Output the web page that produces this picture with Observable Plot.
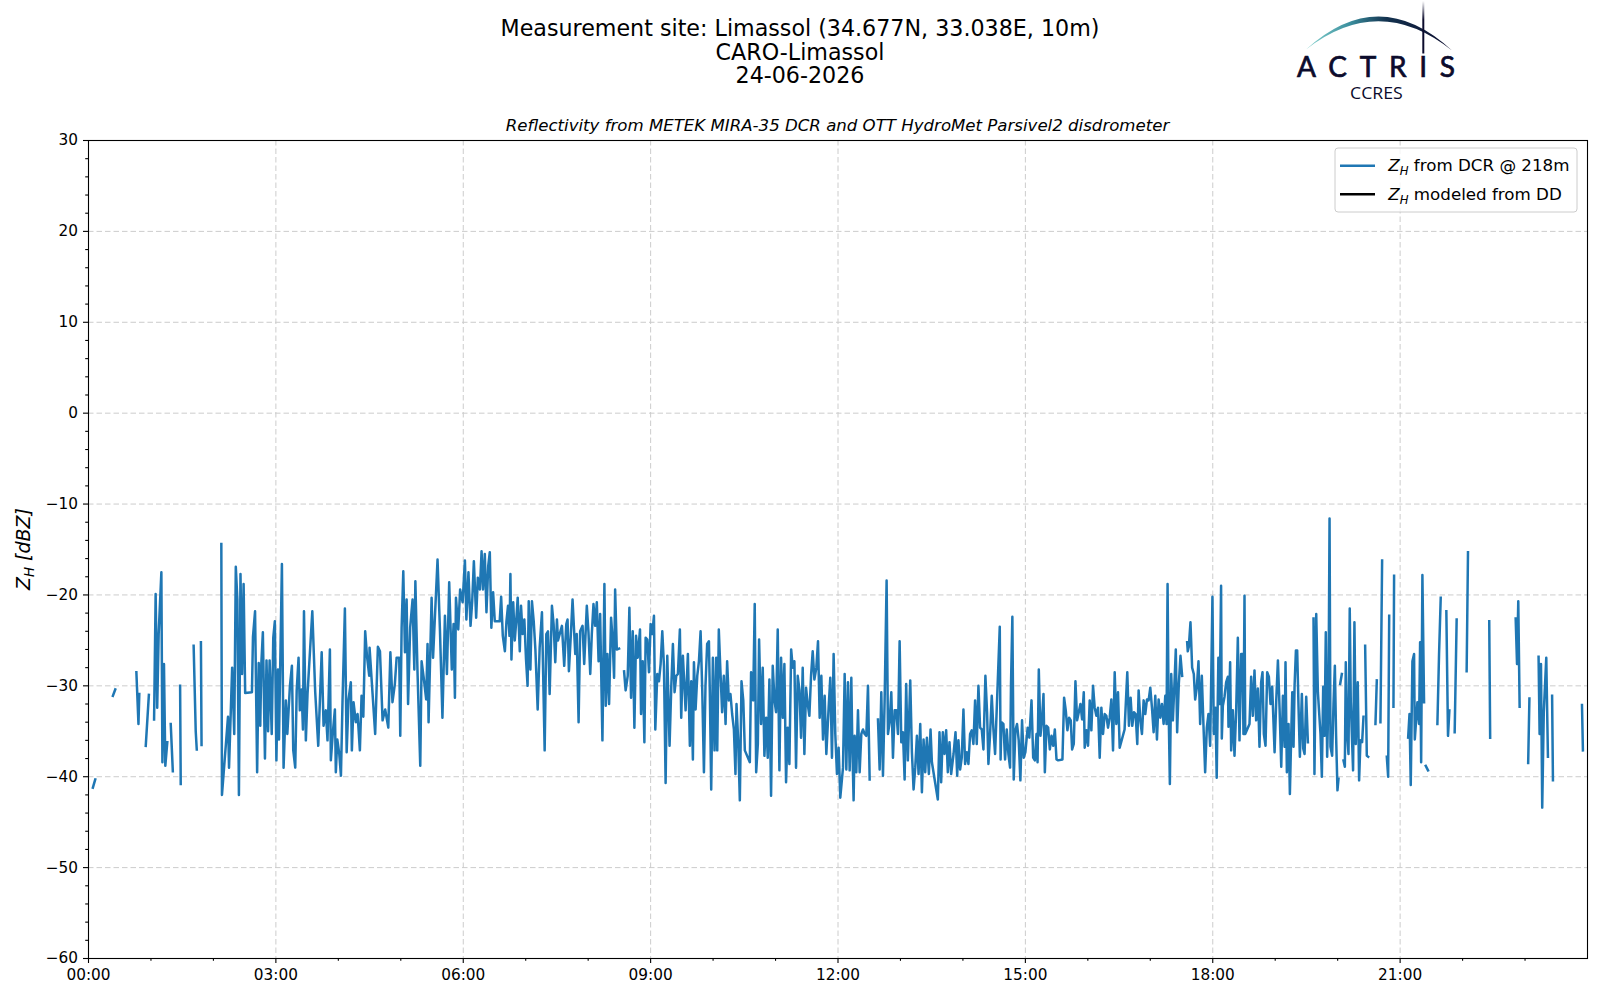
<!DOCTYPE html>
<html><head><meta charset="utf-8">
<script src="https://cdn.jsdelivr.net/npm/d3@7"></script>
<script src="https://cdn.jsdelivr.net/npm/@observablehq/plot@0.6"></script>
<style>
html,body{margin:0;padding:0;background:#fff;}
#wrap{position:relative;width:1600px;height:1000px;overflow:hidden;font-family:"DejaVu Sans",sans-serif;}
#wrap > svg{position:absolute;left:0;top:0;}
#overlay{pointer-events:none;}
</style></head><body><div id="wrap"></div>
<script>
// ---- data: [minutes after 00:00 UTC, Z_H dBZ]; null = gap in the record ----
const zhDCR = [
[4.2,-41.2],[6.5,-40.3],[7,null],
[23.4,-31.1],[25.7,-30.4],[26,null],
[46,-28.5],[48,-34.2],[48.8,-30.9],[50,null],
[55,-36.6],[58,-31],[60,null],
[63,-33.7],[64.5,-19.9],[66,-32.4],[67.4,-24.3],[70,-17.5],[71,-38.4],[72.5,-27.6],[73.8,-38.8],[75.7,-36.2],[77,null],
[79,-34.2],[81,-39.4],[83,null],
[88,-30],[88.6,-40.8],[90,null],
[101,-25.6],[103,-35],[104,-37],[106,null],
[108,-25.2],[108.6,-36.5],[110,null],
[127.6,-14.4],[128.2,-42],[132,-36.4],[134,-33.4],[135,-39],[138,-28],[140,-35.3],[141.5,-16.9],[143,-20.5],[144.5,-42],[146,-17.7],[147.5,-28.7],[149,-18.8],[150.5,-30.8],[157,-30.7],[158,-24.6],[160,-21.8],[162,-39.5],[163.5,-27.5],[165,-34.4],[166,-27.6],[167.5,-24.1],[169.5,-38],[171,-27.2],[172.5,-35],[174,-27.2],[176,-35.3],[177.5,-24.7],[179,-22.9],[180.5,-38.2],[182,-28.2],[183,-35.9],[185.8,-16.6],[187.4,-39],[189.6,-31.6],
[191,-35.3],[193.5,-30],[195.4,-27.8],[196.7,-37.1],[198.6,-39],[200,-30.5],[201.8,-26.9],[203,-32.7],[204.7,-30.4],[206,-34.8],[207,-21.8],[208.8,-36],[210.4,-30.9],[215,-21.8],[217.8,-30.7],[220.7,-36.6],[224,-26.3],[225.8,-34.4],[228,-32.7],[229.6,-36],[231.9,-26],[232.8,-38.2],[235,-34.8],[236.7,-32.6],[237.6,-39.5],[239,-35.9],[240.9,-37.5],[242.5,-39.9],[244,-31.8],[246.3,-21.5],[248,-37.3],[249.8,-31.5],[252,-29.6],[253,-37.1],[254.6,-31.8],[256.8,-34],[258.5,-33.1],[260.7,-37.1],[262.3,-31.1],[264,-33.4],[265.8,-24],[267.5,-26.7],[269.7,-28.9],[270,-25.8],[275.4,-35.3],[278,-25.7],[280,-26.2],[282.5,-33.8],[285,-32.6],[288,-34.6],[290,-26.3],[292,-31.8],[294.3,-29.8],[296,-26.9],[298.5,-26.9],[299.5,-35.5],[300.8,-23.6],[302.4,-17.4],[304,-26.3],[305.6,-20.5],[307,-32],[309,-23.6],[311.3,-20.5],[313,-28.2],[314,-18.5],[316,-28.2],[318.7,-38.8],[320,-27.3],[322,-29.1],[324.4,-31.5],[325.7,-25.4],[326.7,-34],[329.6,-20.3],[331,-26.9],[335.3,-16.1],[337.6,-23.8],[340,-33.5],[342.4,-22.3],[344.3,-28.7],[346.5,-18.6],[349,-28.2],[350.7,-23.2],[352,-31.3],[353,-20.3],[355.2,-23.8],[357,-19.4],[359.4,-20.8],[361.6,-16.2],
[363,-22.7],[365,-17.5],[367,-23.4],[368.6,-20.7],[370.2,-16.3],[372.4,-22.5],[374,-18.1],[376,-19.4],[377.6,-15.2],[379,-19.4],[380.7,-15.5],[382.3,-21.9],[384,-16.8],[385.5,-15.3],[387,-23.6],[388.7,-19.7],[390.3,-22.9],[395,-22.9],[396.4,-20.2],[398,-24.5],[400,-26.2],[401.5,-22.9],[403,-21.2],[404.4,-24.5],[405.3,-17.7],[406.3,-27.1],[408,-20.8],[409.5,-25],[411,-22.7],[412.3,-20.3],[414.3,-26.2],[415.5,-21.2],[417,-24.3],[418.7,-22.7],[420.3,-27.1],[421.8,-30],[422.9,-20.7],[424.5,-28.2],[426,-20.7],[427.7,-22.9],[429.3,-26],[431.5,-32.6],[433.4,-25.8],[435.6,-21.9],[438.2,-37.1],[439.8,-24.3],[441.4,-24],[443,-30.9],[445.2,-21.2],[446.8,-23.2],[448.4,-27.4],[450,-22.7],[451,-25],[454.8,-23.4],[457,-27.8],[459,-23.2],[460.2,-22.7],[461.5,-28.4],[463.4,-24.3],[465,-20.5],[467.6,-26.5],[469,-24.3],[470.8,-34],[472.3,-24],[474.6,-23.4],[476.2,-27.6],[478.7,-21.2],[480.3,-24.1],[482,-28.7],[483.5,-24.3],[485.1,-21],[486.7,-23.4],[488.3,-20.8],[490,-27.3],[491.5,-22.1],[493.7,-36],[495.6,-18.8],[496.9,-32.2],[498.5,-26.5],[500.1,-32],[502,-22.5],[503.5,-24.9],[504.9,-29.1],[505.9,-19.4],[507.5,-26],[509.7,-25.9],[512,null],
[514.5,-28.4],[516,-30.5],[518,-28.9],[519.6,-21.4],[521.2,-31.3],[522.8,-24],[524.4,-34.6],[526,-24.5],[527.6,-26.9],[529.8,-23.8],[530.8,-33.1],[532.4,-27.3],[534,-36.2],[535.2,-24.7],[536.8,-24.9],[538.4,-28.5],
[540,-23.2],[541.6,-24.3],[543.2,-22.3],[544.5,-34.8],[546.4,-28.7],[548,-29.5],[549.6,-27.6],[551.2,-24],[552.8,-27.8],[554.4,-40.7],[556,-26.7],[558.2,-36.6],[559.8,-30.2],[561.4,-25.4],[563,-30.7],[564.6,-28.9],[566.2,-28.7],[568.1,-23.8],[569.4,-33.5],[571,-26.7],[573.6,-32.7],[575.8,-26.5],[577.7,-36.6],[579,-29.5],[580.6,-38.1],[581.6,-27.4],[583.2,-32.6],[584.8,-28.9],[586.4,-27.3],[588,-24],[589.6,-30.5],[591.2,-39.5],[592.7,-30],[594.3,-25.4],[596,-25.1],[596.9,-30.9],[598.2,-41.4],[599.8,-26.9],[601.4,-37.1],[603,-26.9],[604,-37.1],[605.5,-23.8],[607.1,-28.5],[608.7,-32.9],[610.3,-28.9],[612,-34.2],[613.5,-27.3],[615.1,-31.6],[616.7,-30.9],[618.3,-33.1],[620,-34.8],[621.5,-39.7],[622.5,-32],[624.1,-36],[625.7,-42.6],[627.3,-29.5],[629,-31.6],[630.5,-37.1],[635.3,-38.4],[636.5,-28.5],[638.5,-31.6],[640,-21],[641.4,-39.5],[643,-36.4],[644.2,-24.9],[646.1,-34.2],[647.7,-28],[649.3,-37.7],[651,-33.5],[652.5,-37.9],[654.1,-29.3],[655.7,-42.1],[657.3,-27.8],[659,-31.6],[660.5,-32.9],[662.1,-23.8],[663.7,-39.3],[665.3,-26.9],[667,-33.5],[668.5,-27.6],[670.1,-40.6],[671.7,-34.6],[673.3,-38.6],[675,-26],[676.5,-28],[678.1,-27.3],[679.7,-39],[681.3,-28.9],[683,-30.5],[684.5,-35.7],[686.1,-28],[687.7,-37.5],[689.3,-30.2],[690.9,-32],[692.5,-33.3],[694.1,-28.9],[695.7,-26.2],[697.3,-29.3],[699.2,-28],[700.8,-25.1],[702.4,-33.5],[704,-28.9],[705.6,-35.9],[707.2,-31.1],[708.8,-37.5],[711,-32.4],[712.6,-29.1],[714.2,-37.9],[715.8,-26.5],[717.4,-35.3],[719,-39.7],[720.6,-36.8],[722.2,-42.3],
[724.8,-39],[726.4,-28.7],[728,-39.2],[729.6,-29.6],[731.2,-39.3],[732.8,-29.1],[733.8,-36.8],[735,-42.6],[736,-35.5],[737.6,-39.5],[739.2,-32.7],[740.8,-39.5],[742.4,-35.3],[744,-34.8],[745.6,-35.3],[747.2,-35.5],[748.8,-30],[750.4,-40.3],[754,null],
[758.4,-33.7],[760,-39.2],[761.6,-30.7],[763.2,-39.9],[764.8,-31.6],[766.7,-18.4],[768,-35.3],[769.6,-34],[771.2,-30.7],[772.8,-37.9],[774.4,-32.7],[776,-32.7],[777.6,-35.3],[779.2,-25.1],[780.8,-36.2],[782.4,-35.1],[784,-40.3],[785.5,-29.8],[787.1,-38.2],[789.4,-29.4],[791,-37.3],[792.6,-41.4],[794.2,-39],[795.8,-35.5],[797.4,-39.7],[799,-34.2],[800.6,-41.7],[802.2,-35.9],[803.8,-39.5],[805.4,-35.7],[807.3,-39.7],[808.9,-34.8],[810.2,-38.4],[815.9,-42.5],[817.5,-35.1],[819.1,-40.6],[820.7,-35.1],[822.3,-37.5],[823.9,-34.9],[825.5,-39.5],[827.1,-36.2],[828.7,-39.7],[831,-37.5],[832.9,-35.1],[834.5,-39.9],[835.7,-36],[837.3,-39.2],[838.9,-37.9],[840.5,-32.6],[842.1,-38.6],[843.7,-37.3],[845.3,-38.6],[846.9,-35.3],[848.5,-34.9],[850.1,-36.4],[851.7,-31.6],[853.3,-36.4],[854.9,-30],[856.5,-34.6],[858.1,-34.8],[859.7,-37],[861.6,-28.9],[863.2,-32.9],[864.5,-38.6],[866.1,-35.3],[867.7,-31.1],[869.3,-34.8],[870.9,-37.5],[875.4,-23.5],[876.2,-38.1],[877,-34],[878.9,-34.2],[880.5,-38.1],[882.1,-34.8],[883.7,-37.5],[885.3,-39],[886.2,-29.8],[887.5,-22.4],[888.8,-40.3],[890.4,-34.9],[892,-34.2],[893.6,-36],[895.2,-40.4],[896.8,-33.8],[898.4,-37.9],[900,-37.3],[902.2,-34.6],[903.8,-35.7],
[905.9,-31.6],[907.5,-37.9],[909.1,-38.2],[910.7,-35.3],[911.7,-38.4],[912.9,-28.2],[914.5,-35.5],[916.1,-33.5],[917.4,-30.9],[918.7,-39.5],[920.3,-34.4],[921.9,-34.6],[923.5,-37],[925.1,-35.5],[926.7,-36.6],[928.3,-34.8],[929.9,-38.1],[931.5,-38.2],[935.6,-38.1],[937.2,-31.3],[938.8,-32.7],[940.4,-34.9],[942,-33.5],[943.6,-33.8],[944.9,-37],[946.5,-36.4],[948.1,-29.5],[949.7,-33.8],[951.3,-32.9],[952.9,-32],[954.5,-33.7],[956.1,-30.7],[957,-36.8],[958.6,-34.9],[960.2,-36.6],[961.8,-31.6],[963.4,-34.9],[965,-30],[966.6,-32.4],[968.2,-33.3],[969.8,-32.4],[971.4,-37.9],[973,-32.4],[974.6,-35.3],[976.2,-33.1],[977.8,-33.3],[979.4,-34.6],[981,-33.5],[982.6,-31.5],[984.2,-37.1],[985.8,-28.5],[987.4,-34.2],[989,-30.7],[990.6,-36.8],[995.3,-34.8],[997.9,-28.5],[999.5,-34.4],[1001.1,-31.3],[1002.7,-34.4],[1004.3,-32.9],[1005.9,-33.1],[1007.5,-36.4],[1008.8,-30.5],[1010.4,-33.8],[1012,-35.3],[1013.6,-31.6],[1015.2,-33.1],[1016.8,-31.5],[1018.4,-31.6],[1020,-30.2],[1021.6,-32.4],[1023.2,-35.1],[1024.8,-31.1],[1026.4,-35.9],[1028,-31.5],[1029.6,-33.5],[1031.2,-32],[1032.8,-34.2],[1034.4,-31.1],[1035.6,-34.2],[1036.6,-18.8],[1037.6,-32.4],[1038.8,-40.8],[1040.1,-28.7],[1041.7,-33.8],[1043.3,-29.5],[1044.5,-26],[1045.8,-35.1],[1047.4,-29.8],[1049,-26.7],[1050.6,-28.9],[1053,null],
[1055.4,-25.2],[1056,-26.2],[1057,-25.7],[1058.6,-23],[1060.2,-28],[1061.8,-28.7],[1063.1,-31.5],[1064.7,-30.2],[1066.3,-27.3],[1067.9,-34.2],[1069.5,-28.9],[1071.1,-34.4],[1072.7,-39.5],[1074.3,-34.6],[1075.9,-33.1],[1077.5,-36.6],[1078.4,-30.2],[1079.7,-20.2],[1081,-35.3],[1082.6,-32.4],[1083.8,-40.1],[1085.4,-26.9],[1086.7,-32],
[1088,-19],[1088.7,-35.8],[1089.7,-32.2],[1091.3,-31.2],[1092.9,-29.6],[1094.5,-29],[1095.1,-34.5],[1096.7,-27.4],[1097.7,-37.1],[1099.3,-32.7],[1100.9,-37.7],[1102.5,-32.7],[1104.1,-24.7],[1105.7,-36],[1107.3,-26.5],[1108.6,-26.5],[1109.5,-35.3],[1110.5,-20.1],[1111.2,-35.3],[1115.3,-34.2],[1116.9,-29],[1118.5,-33.3],[1120.1,-28.3],[1121.7,-33.8],[1123.3,-30.3],[1124.9,-36.7],[1126.5,-29.6],[1127.8,-28.5],[1129.1,-35.3],[1130.7,-36.6],[1132.3,-28.5],[1133.9,-29],[1135.5,-32],[1137.1,-30.1],[1139.4,-37.3],[1141,-31.6],[1142.6,-27.2],[1144.2,-32.5],[1145.8,-38.9],[1147.4,-31.1],[1149,-36.7],[1149.9,-27.4],[1151.2,-39.5],[1152.8,-34.2],[1154.1,-41.9],[1155.4,-35.3],[1156.4,-30.7],[1157.6,-36.7],[1158.6,-30],[1159.9,-26.1],[1161.1,-26.1],[1162.4,-32.3],[1163.7,-37.8],[1165.6,-30.9],[1166.9,-36.9],[1168.2,-37.5],[1169.8,-31.2],[1171.4,-36.2],[1174,null],
[1176.8,-22.6],[1177.7,-39.7],[1179.4,-22.1],[1181,-30.7],[1183.5,-35.3],[1184.8,-40],[1186.1,-30.1],[1187.4,-35.5],[1188.6,-24.1],[1189.9,-37.8],[1191.2,-30.9],[1192.2,-11.6],[1193.1,-36.7],[1194.7,-37.7],[1196,-32],[1197.3,-27.8],[1198.5,-35.5],[1199.8,-41.5],[1200.8,-40.2],[1201.6,null],
[1202.4,-29.8],[1204,-28.7],[1204.8,null],
[1205.6,-38.2],[1206.9,-38.9],[1207.8,-27.4],[1209.1,-35.3],[1210.4,-37.5],[1211.6,-21.5],[1212.6,-31.8],[1214.8,-39.3],[1216.1,-23],[1217.4,-36.4],[1219.3,-29.6],[1220.6,-40.4],[1221.9,-36],[1223.5,-36.2],[1224.8,-33.4],[1225.6,null],
[1226.4,-25.6],[1228,-37.7],[1229.3,-37.8],[1232,null],
[1236.3,-34.2],[1237.6,-29.4],[1239,null],
[1241.1,-34],[1242.7,-16.2],[1244,null],
[1247.2,-37.8],[1248.5,-40],[1249.5,-22.3],[1251,null],
[1253.6,-32.3],[1254.2,-17.9],[1260,null],
[1267.7,-35.7],[1269,-33.1],[1270.2,-40.9],[1271.8,-27.3],[1273.4,-26.5],[1274.1,-35.9],[1276.6,-31.8],[1278.2,-34.2],[1279.2,-25.2],[1280.2,-38.4],[1281.4,-17.8],[1283,-31.8],[1283.8,null],
[1284.6,-38.8],[1286.8,-39.3],[1290,null],
[1295.8,-34.2],[1297.4,-26.5],[1299,-20.3],[1302,null],
[1304.4,-21.8],[1306,-35.5],[1307.3,-32.7],[1310,null],
[1312.4,-35.1],[1314.3,-22.7],[1318,null],
[1323.9,-28.4],[1325.2,-15.3],[1330,null],
[1345.6,-22.9],[1346.5,-35.7],[1350,null],
[1371,-22.6],[1372.3,-27.6],[1373.5,-20.7],[1374.8,-32.3],[1378,null],
[1383,-38.5],[1384.2,-31.4],[1388,null],
[1393,-26.8],[1394,-35.3],[1395.3,-27.6],[1396.5,-43.4],[1398,-32.9],[1400.4,-26.9],[1401,-31.1],[1402,-37.8],[1404,null],
[1406,-31.1],[1406.8,-40.4],[1410,null],
[1434.7,-32.1],[1435.6,-37.1]
];
const zhDD = []; // modeled from disdrometer: no values on this day

const majorHours = [0, 3, 6, 9, 12, 15, 18, 21];
const xTickLabels = ["00:00", "03:00", "06:00", "09:00", "12:00", "15:00", "18:00", "21:00"];
const minorHours = [1, 2, 4, 5, 7, 8, 10, 11, 13, 14, 16, 17, 19, 20, 22, 23];
const yMajorTicks = [-60, -50, -40, -30, -20, -10, 0, 10, 20, 30];
const yTickLabels = ["\u221260", "\u221250", "\u221240", "\u221230", "\u221220", "\u221210", "0", "10", "20", "30"];
const yMinorTicks = [-58,-56,-54,-52,-48,-46,-44,-42,-38,-36,-34,-32,-28,-26,-24,-22,-18,-16,-14,-12,-8,-6,-4,-2,2,4,6,8,12,14,16,18,22,24,26,28];

const day0 = Date.UTC(2026, 5, 24);
const toDate = m => new Date(day0 + m * 60000);
const rows = zhDCR.map(([m, v]) => ({time: toDate(m), zh: v}));
const majorTimes = majorHours.map(h => toDate(h * 60));
const minorTimes = minorHours.map(h => toDate(h * 60));

const FONT = '"DejaVu Sans", sans-serif';
const gridStyle = {stroke: "#cccccc", strokeOpacity: 1, strokeWidth: 1, strokeDasharray: "5.5,3"};

const chart = Plot.plot({
  width: 1600, height: 1000,
  marginLeft: 88, marginRight: 13, marginTop: 140, marginBottom: 42,
  style: {fontFamily: FONT, color: "#000", background: "transparent", overflow: "visible"},
  x: {type: "utc", domain: [toDate(0), toDate(1440)], label: null},
  y: {domain: [-60, 30], label: null},
  marks: [
    Plot.gridX(majorTimes, gridStyle),
    Plot.gridY(yMajorTicks, gridStyle),
    Plot.line(rows, {x: "time", y: "zh", stroke: "#1f77b4", strokeWidth: 2.5, strokeLinejoin: "round", strokeLinecap: "square"}),
    Plot.line(zhDD, {x: "time", y: "zh", stroke: "#000", strokeWidth: 2.5}),
    Plot.frame({stroke: "#000", strokeWidth: 1.1}),
    Plot.axisX(majorTimes, {tickSize: 5, tickPadding: 6, strokeWidth: 1.1, fontSize: 15.3, fill: "#000",
      tickFormat: d => xTickLabels[majorTimes.findIndex(t => +t === +d)]}),
    Plot.axisX(minorTimes, {tickSize: 2.8, strokeWidth: 1.1, tickFormat: () => ""}),
    Plot.axisY(yMajorTicks, {tickSize: 5, tickPadding: 5.5, strokeWidth: 1.1, fontSize: 15.3, fill: "#000",
      tickFormat: d => yTickLabels[yMajorTicks.indexOf(d)]}),
    Plot.axisY(yMinorTicks, {tickSize: 2.8, strokeWidth: 1.1, tickFormat: () => ""})
  ]
});
const wrap = document.getElementById("wrap");
wrap.appendChild(chart);

// ---- overlay: titles, axis label, legend, logo ----
const ns = "http://www.w3.org/2000/svg";
const ov = document.createElementNS(ns, "svg");
ov.setAttribute("id", "overlay");
ov.setAttribute("width", 1600);
ov.setAttribute("height", 1000);
ov.innerHTML = `
<defs>
  <linearGradient id="arcGrad" x1="1306" y1="0" x2="1452" y2="0" gradientUnits="userSpaceOnUse">
    <stop offset="0" stop-color="#86d3cf"/>
    <stop offset="0.3" stop-color="#3b8f9e"/>
    <stop offset="0.55" stop-color="#13324f"/>
    <stop offset="1" stop-color="#0b0b2c"/>
  </linearGradient>
  <linearGradient id="barGrad" x1="0" y1="1" x2="0" y2="54" gradientUnits="userSpaceOnUse">
    <stop offset="0" stop-color="#ffffff"/>
    <stop offset="0.35" stop-color="#0b0b2c"/>
    <stop offset="1" stop-color="#0b0b2c"/>
  </linearGradient>
</defs>
<g font-family='${FONT}' fill="#000">
  <text x="800" y="36.4" text-anchor="middle" font-size="22.2">Measurement site: Limassol (34.677N, 33.038E, 10m)</text>
  <text x="800" y="59.6" text-anchor="middle" font-size="22.2">CARO-Limassol</text>
  <text x="800" y="82.8" text-anchor="middle" font-size="22.2">24-06-2026</text>
  <text x="837.5" y="131" text-anchor="middle" font-size="16.6" font-style="italic">Reflectivity from METEK MIRA-35 DCR and OTT HydroMet Parsivel2 disdrometer</text>
  <text transform="translate(29.5,549) rotate(-90)" text-anchor="middle" font-size="19" font-style="italic">Z<tspan font-size="13.3" dy="4.5">H</tspan><tspan dy="-4.5"> [dBZ]</tspan></text>
</g>
<g>
  <rect x="1335" y="148" width="242" height="64" rx="3" ry="3" fill="#ffffff" fill-opacity="0.8" stroke="#cccccc" stroke-width="1"/>
  <line x1="1340" x2="1375" y1="165.7" y2="165.7" stroke="#1f77b4" stroke-width="2.5"/>
  <line x1="1340" x2="1375" y1="194.2" y2="194.2" stroke="#000" stroke-width="2.5"/>
  <g font-family='${FONT}' font-size="16.7" fill="#000">
    <text x="1388.3" y="171.2"><tspan font-style="italic">Z</tspan><tspan font-style="italic" font-size="11.7" dy="3.8">H</tspan><tspan dy="-3.8"> from DCR @ 218m</tspan></text>
    <text x="1388.3" y="199.8"><tspan font-style="italic">Z</tspan><tspan font-style="italic" font-size="11.7" dy="3.8">H</tspan><tspan dy="-3.8"> modeled from DD</tspan></text>
  </g>
</g>
<g>
  <path d="M1306,49.5 Q1379,-17 1452,50.5 Q1379,-7.5 1306,49.5 Z" fill="url(#arcGrad)"/>
  <line x1="1423.3" x2="1423.3" y1="1" y2="53.5" stroke="url(#barGrad)" stroke-width="2"/>
  <text x="1297" y="77.3" font-family="Lato, 'Open Sans', sans-serif" font-size="28" fill="#0b0b2c" stroke="#0b0b2c" stroke-width="0.7" textLength="158" lengthAdjust="spacing">ACTRIS</text>
  <text x="1350" y="99" font-family="'Open Sans', sans-serif" font-size="17" fill="#0b0b2c" textLength="52.7" lengthAdjust="spacingAndGlyphs">CCRES</text>
</g>`;
wrap.appendChild(ov);
</script></body></html>
